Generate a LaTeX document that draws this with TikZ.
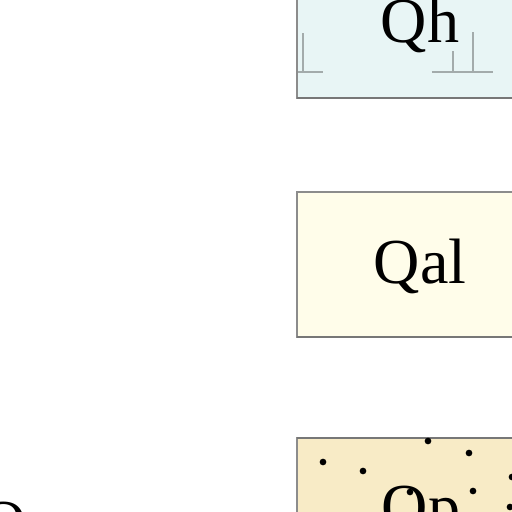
\documentclass[tikz,border=0pt]{standalone}
\usepackage{fontspec}
\setmainfont{Liberation Serif}
\usetikzlibrary{calc}
\definecolor{qhfill}{HTML}{E8F5F5}
\definecolor{qalfill}{HTML}{FFFDEA}
\definecolor{qpfill}{HTML}{F8EBC6}
\definecolor{boxline}{HTML}{8C8C8C}
\definecolor{marsh}{HTML}{A3ABAB}

\begin{document}
\begin{tikzpicture}[x=0.02cm,y=-0.02cm]
\tikzset{unitbox/.style={draw=boxline, line width=0.7pt},
 unitshade/.style={draw=boxline!85!black, line width=1.3pt},
 unitlabel/.style={font=\fontsize{36.5}{40}\selectfont, anchor=base, inner sep=0pt},
 marshline/.style={draw=marsh, line width=0.8pt}}
\useasboundingbox (0,0) rectangle (512,512);
\clip (0,0) rectangle (512,512);
% Qh
\filldraw[unitbox, fill=qhfill] (297,-50) rectangle (560,98);
\draw[unitshade] (297,98) -- (560,98);
\node[unitlabel] (qh) at (420,42) {Qh};
\draw[marshline] (298,72) -- (323,72) (303,72) -- (303,33);
\draw[marshline] (432,72) -- (493,72) (453,72) -- (453,51) (473,72) -- (473,32);
% Qal
\filldraw[unitbox, fill=qalfill] (297,192) rectangle (560,337);
\draw[unitshade] (297,337) -- (560,337);
\node[unitlabel] (qal) at (420,283) {Qal};
% Qp
\filldraw[unitbox, fill=qpfill] (297,438) rectangle (560,600);
\draw[unitshade] (297,438) -- (560,438);
\node[unitlabel] (qp) at (421,528) {Qp};
\foreach \x/\y in {323/462, 363/471, 428/441, 469/453, 512/477, 473/491, 410/492, 510/507} {
 \fill[black] (\x,\y) circle (1.9pt);
}
% left label
\node[unitlabel, anchor=base west] (q) at (-20,544) {Q};
\end{tikzpicture}
\end{document}
